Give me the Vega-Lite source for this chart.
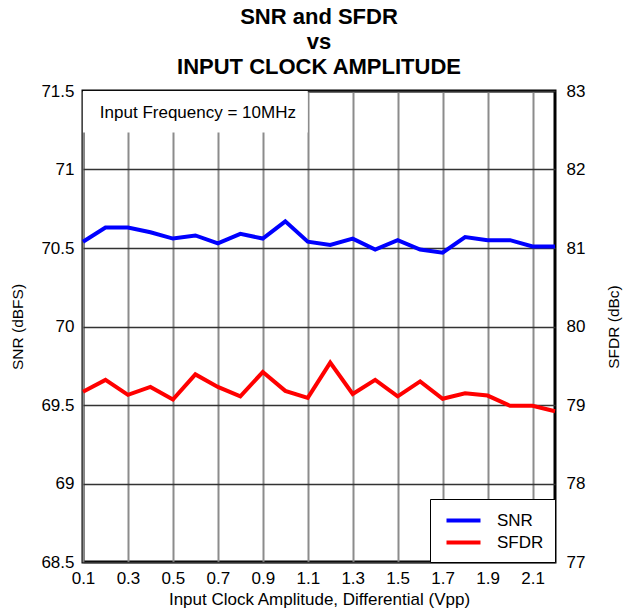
{
  "$schema": "https://vega.github.io/schema/vega-lite/v6.json",
  "autosize": "none",
  "width": 472,
  "height": 471,
  "padding": {"left": 83, "top": 91, "right": 68, "bottom": 52},
  "background": "white",
  "config": {
    "font": "Liberation Sans",
    "view": {"stroke": "black", "strokeWidth": 3},
    "axis": {"labelFont": "Liberation Sans", "titleFont": "Liberation Sans", "labelFontSize": 17, "titleFontSize": 15.5, "titleFontWeight": "normal", "labelColor": "black", "titleColor": "black", "ticks": false, "domain": false}
  },
  "title": {
    "text": ["SNR and SFDR", "vs", "INPUT CLOCK AMPLITUDE"],
    "fontSize": 22,
    "fontWeight": "bold",
    "font": "Liberation Sans",
    "lineHeight": 25,
    "anchor": "middle",
    "offset": 3,
    "color": "black"
  },
  "data": {
    "values": [
      {"amp": 0.1, "snr": 70.54, "sfdr": 79.17},
      {"amp": 0.2, "snr": 70.63, "sfdr": 79.32},
      {"amp": 0.3, "snr": 70.63, "sfdr": 79.13},
      {"amp": 0.4, "snr": 70.60, "sfdr": 79.23},
      {"amp": 0.5, "snr": 70.56, "sfdr": 79.07},
      {"amp": 0.6, "snr": 70.58, "sfdr": 79.39},
      {"amp": 0.7, "snr": 70.53, "sfdr": 79.23},
      {"amp": 0.8, "snr": 70.59, "sfdr": 79.11},
      {"amp": 0.9, "snr": 70.56, "sfdr": 79.42},
      {"amp": 1.0, "snr": 70.67, "sfdr": 79.18},
      {"amp": 1.1, "snr": 70.54, "sfdr": 79.09},
      {"amp": 1.2, "snr": 70.52, "sfdr": 79.54},
      {"amp": 1.3, "snr": 70.56, "sfdr": 79.14},
      {"amp": 1.4, "snr": 70.49, "sfdr": 79.32},
      {"amp": 1.5, "snr": 70.55, "sfdr": 79.11},
      {"amp": 1.6, "snr": 70.49, "sfdr": 79.30},
      {"amp": 1.7, "snr": 70.47, "sfdr": 79.08},
      {"amp": 1.8, "snr": 70.57, "sfdr": 79.15},
      {"amp": 1.9, "snr": 70.55, "sfdr": 79.12},
      {"amp": 2.0, "snr": 70.55, "sfdr": 78.99},
      {"amp": 2.1, "snr": 70.51, "sfdr": 78.99},
      {"amp": 2.2, "snr": 70.51, "sfdr": 78.92}
    ]
  },
  "encoding": {
    "x": {
      "field": "amp",
      "type": "quantitative",
      "scale": {"domain": [0.1, 2.2], "nice": false, "zero": false},
      "axis": {
        "title": "Input Clock Amplitude, Differential (Vpp)",
        "titleFontSize": 17,
        "values": [0.1, 0.3, 0.5, 0.7, 0.9, 1.1, 1.3, 1.5, 1.7, 1.9, 2.1],
        "format": ".1f",
        "labelFlush": false,
        "labelOverlap": false,
        "grid": true,
        "gridColor": "#8c8c8c",
        "gridWidth": 2,
        "gridOpacity": 1,
        "labelPadding": 8,
        "titlePadding": 5
      }
    }
  },
  "layer": [
    {
      "layer": [
        {
          "transform": [{"filter": "datum.amp < 0.15"}],
          "mark": {"type": "rect", "fill": "white"},
          "encoding": {
            "x": {"datum": 0.1, "type": "quantitative"},
            "x2": {"datum": 1.1},
            "y": {"datum": 71.5, "type": "quantitative", "scale": {"domain": [68.5, 71.5], "nice": false, "zero": false}},
            "y2": {"datum": 71.235}
          }
        },
        {
          "transform": [{"filter": "datum.amp < 0.15"}],
          "mark": {"type": "text", "text": "Input Frequency = 10MHz", "align": "left", "baseline": "middle", "fontSize": 17, "font": "Liberation Sans", "color": "black"},
          "encoding": {
            "x": {"datum": 0.175, "type": "quantitative"},
            "y": {"datum": 71.358, "type": "quantitative"}
          }
        },
        {
          "mark": {"type": "line", "strokeWidth": 4},
          "encoding": {
            "y": {
              "field": "snr",
              "type": "quantitative",
              "scale": {"domain": [68.5, 71.5], "nice": false, "zero": false},
              "axis": {
                "orient": "left",
                "title": "SNR (dBFS)",
                "values": [68.5, 69, 69.5, 70, 70.5, 71, 71.5],
                "format": ".1~f",
                "grid": true,
                "gridColor": "#333333",
                "gridWidth": 1.5,
                "gridOpacity": 1,
                "labelPadding": 9,
                "titlePadding": 15
              }
            },
            "color": {
              "datum": "SNR",
              "type": "nominal",
              "scale": {"domain": ["SNR", "SFDR"], "range": ["#0000ff", "#ff0000"]},
              "legend": {
                "title": null,
                "orient": "bottom-right",
                "offset": 0,
                "symbolType": "M-2,0H2",
                "symbolSize": 289,
                "symbolStrokeWidth": 4,
                "labelFontSize": 17,
                "labelFont": "Liberation Sans",
                "labelColor": "black",
                "fillColor": "white",
                "strokeColor": "black",
                "padding": 11,
                "rowPadding": 3,
                "labelOffset": 23,
                "symbolOffset": 12,
                "cornerRadius": 0
              }
            }
          }
        }
      ]
    },
    {
      "mark": {"type": "line", "strokeWidth": 4},
      "encoding": {
        "y": {
          "field": "sfdr",
          "type": "quantitative",
          "scale": {"domain": [77, 83], "nice": false, "zero": false},
          "axis": {
            "orient": "right",
            "title": "SFDR (dBc)",
            "titleAngle": 270,
            "values": [77, 78, 79, 80, 81, 82, 83],
            "grid": false,
            "labelPadding": 11,
            "titlePadding": 37
          }
        },
        "color": {"datum": "SFDR", "type": "nominal"}
      }
    }
  ],
  "resolve": {"scale": {"y": "independent"}}
}
